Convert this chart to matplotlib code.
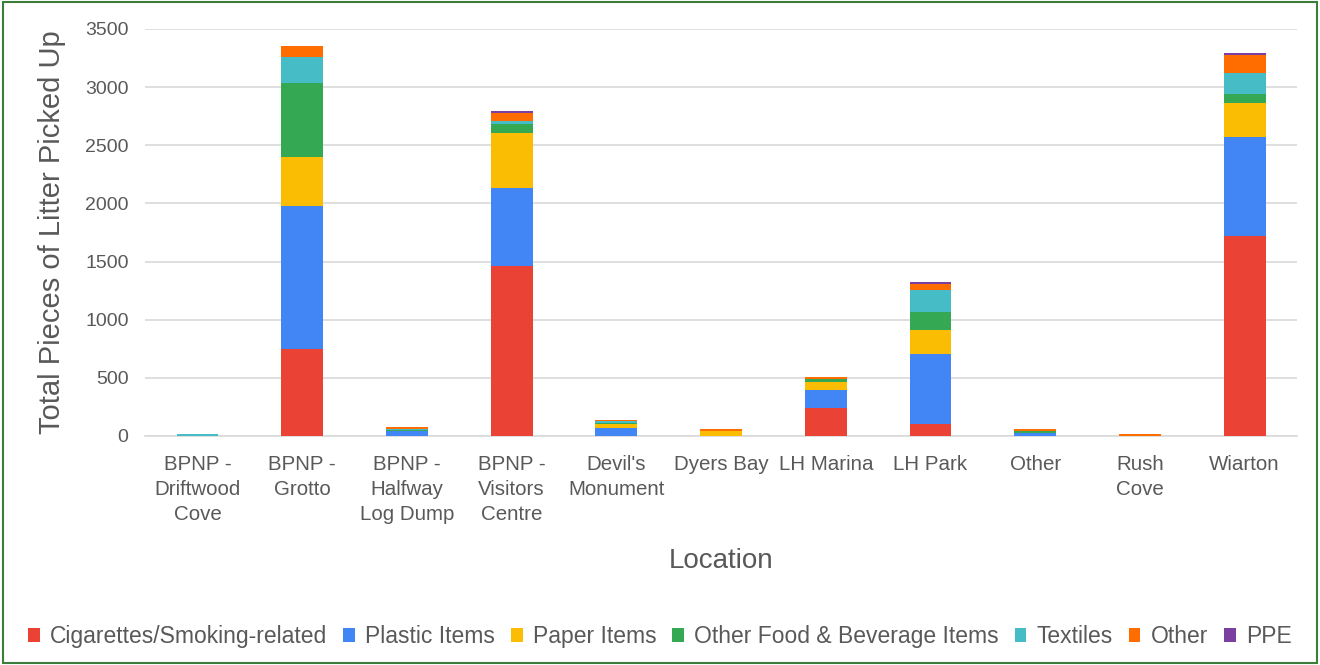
import matplotlib
matplotlib.use("Agg")
import matplotlib.pyplot as plt
import numpy as np
from matplotlib.patches import Rectangle

plt.rcParams['font.family'] = ['Liberation Sans', 'DejaVu Sans']

locations = ["BPNP -\nDriftwood\nCove", "BPNP -\nGrotto", "BPNP -\nHalfway\nLog Dump",
             "BPNP -\nVisitors\nCentre", "Devil's\nMonument", "Dyers Bay", "LH Marina",
             "LH Park", "Other", "Rush\nCove", "Wiarton"]

cigarettes = [0, 745, 0, 1464, 0, 0, 243, 106, 0, 0, 1717]
plastic    = [0, 1233, 40, 666, 71, 0, 155, 602, 22, 0, 857]
paper      = [0, 424, 5, 478, 32, 42, 69, 203, 5, 0, 292]
other_food = [0, 636, 10, 75, 10, 0, 23, 155, 15, 0, 72]
textiles   = [20, 224, 8, 28, 12, 0, 3, 189, 3, 0, 186]
other      = [0, 92, 15, 69, 15, 15, 15, 52, 15, 20, 152]
ppe        = [0, 0, 0, 17, 0, 0, 0, 15, 0, 0, 20]

series = [
    ("Cigarettes/Smoking-related", cigarettes, "#EA4335"),
    ("Plastic Items", plastic, "#4285F4"),
    ("Paper Items", paper, "#FBBC04"),
    ("Other Food & Beverage Items", other_food, "#34A853"),
    ("Textiles", textiles, "#46BDC6"),
    ("Other", other, "#FF6D01"),
    ("PPE", ppe, "#7B3FA0"),
]

fig = plt.figure(figsize=(13.2, 6.65), dpi=100)
ax = fig.add_axes([0.11, 0.3444, 0.8726, 0.612])

x = np.arange(len(locations))
bottom = np.zeros(len(locations))
handles = []
for name, vals, col in series:
    v = np.array(vals, dtype=float)
    b = ax.bar(x, v, 0.4, bottom=bottom, color=col, label=name, zorder=3)
    handles.append(b)
    bottom += v

ax.set_ylim(0, 3500)
ax.set_xlim(-0.5, len(locations) - 0.5)
ax.set_yticks(np.arange(0, 3501, 500))
ax.yaxis.grid(True, color="#d9d9d9", linewidth=1.2, zorder=0)
ax.set_axisbelow(True)
for s in ["top", "right", "left"]:
    ax.spines[s].set_visible(False)
ax.spines["bottom"].set_color("#d9d9d9")
ax.spines["bottom"].set_linewidth(1.2)
ax.tick_params(axis="both", length=0, colors="#595959")
ax.tick_params(axis="y", labelsize=14, pad=12)
ax.tick_params(axis="x", labelsize=14.8, pad=14)
ax.set_xticks(x)
ax.set_xticklabels(locations, linespacing=1.4)
ax.set_ylabel("Total Pieces of Litter Picked Up", fontsize=21, color="#595959", labelpad=14)
ax.set_xlabel("Location", fontsize=20, color="#595959", labelpad=17)

fig.legend(handles=handles, labels=[s[0] for s in series], loc="center",
           bbox_to_anchor=(0.5, 0.043), ncol=7, frameon=False, fontsize=16.5,
           handlelength=0.5, handleheight=0.55, handletextpad=0.45, columnspacing=0.7,
           labelcolor="#595959")

fig.patches.append(Rectangle((0.002, 0.003), 0.996, 0.994, transform=fig.transFigure,
                             fill=False, edgecolor="#3b7d3b", linewidth=1.5))

fig.savefig("out.png", dpi=100)
